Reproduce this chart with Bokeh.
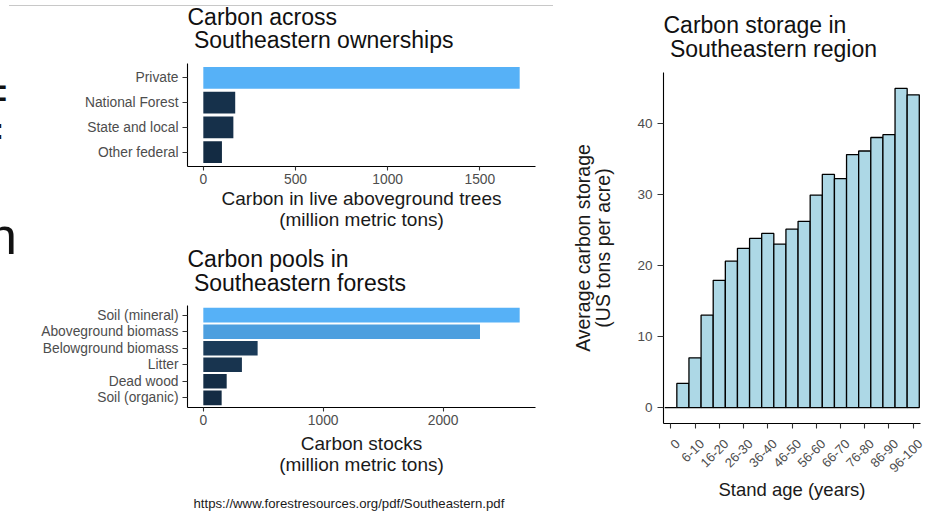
import math
from bokeh.plotting import figure
from bokeh.models import (FactorRange, Range1d, FixedTicker, SingleIntervalTicker,
                          LinearAxis, Label, InlineStyleSheet)
from bokeh.layouts import row, column
from bokeh.embed import file_html
from bokeh.resources import INLINE

# ---------------- data ----------------
owners = ["Private", "National Forest", "State and local", "Other federal"]
owner_carbon = [1716, 173, 163, 101]

pools = ["Soil (mineral)", "Aboveground biomass", "Belowground biomass",
         "Litter", "Dead wood", "Soil (organic)"]
pool_carbon = [2639, 2308, 453, 322, 195, 153]

age_classes = ["0", "1-5", "6-10", "11-15", "16-20", "21-25", "26-30", "31-35",
               "36-40", "41-45", "46-50", "51-55", "56-60", "61-65", "66-70",
               "71-75", "76-80", "81-85", "86-90", "91-95", "96-100"]
age_storage = [0, 3.4, 7.0, 13.0, 17.9, 20.6, 22.4, 23.8, 24.5, 23.0, 25.1,
               26.2, 29.9, 32.8, 32.2, 35.6, 36.1, 38.0, 38.4, 44.9, 44.0]

title1 = ["Carbon across", "\u00a0Southeastern ownerships"]
title2 = ["Carbon pools in", "\u00a0Southeastern forests"]
title3 = ["Carbon storage in", "\u00a0Southeastern region"]
xlab1 = "Carbon in live aboveground trees\n(million metric tons)"
xlab2 = "Carbon stocks\n(million metric tons)"
xlab3 = "Stand age (years)"
ylab3 = "Average carbon storage\n(US tons per acre)"
source_url = "https://www.forestresources.org/pdf/Southeastern.pdf"

FONT = "Liberation Sans"
LOW = (0x13, 0x2B, 0x43)
HIGH = (0x56, 0xB1, 0xF7)


def gradient(vals):
    lo, hi = min(vals), max(vals)
    out = []
    for v in vals:
        t = (v - lo) / (hi - lo)
        c = [round(a + (b - a) * t) for a, b in zip(LOW, HIGH)]
        out.append("#%02x%02x%02x" % tuple(c))
    return out


def style_axis(ax):
    ax.axis_line_color = "black"
    ax.axis_line_width = 1.1
    ax.major_tick_line_color = "#333333"
    ax.major_tick_line_width = 1.1
    ax.major_tick_out = 4
    ax.major_tick_in = 0
    ax.minor_tick_line_color = None
    ax.major_label_text_font = FONT
    ax.major_label_text_font_size = "13.8px"
    ax.major_label_text_color = "#4d4d4d"
    ax.major_label_standoff = 3
    ax.axis_label_text_font = FONT
    ax.axis_label_text_font_size = "19px"
    ax.axis_label_text_font_style = "normal"
    ax.axis_label_text_color = "#1a1a1a"
    ax.axis_label_text_line_height = 1.0
    ax.axis_label_standoff = 0


def style(p):
    p.xgrid.visible = False
    p.ygrid.visible = False
    p.outline_line_color = None
    p.background_fill_color = "white"
    p.border_fill_color = "white"
    for ax in p.axis:
        style_axis(ax)
    for ax in p.yaxis:
        ax.major_tick_out = 5
        ax.major_label_standoff = 4


def text_panel(w, h, left, right):
    """A blank strip with the same side borders as the chart below it;
    its ranges are in canvas pixels (y downwards)."""
    t = figure(width=w, height=h, x_range=Range1d(left, w - right), y_range=Range1d(h, 0),
               min_border_left=left, min_border_right=right, min_border_top=0,
               min_border_bottom=0, toolbar_location=None, output_backend="svg",
               x_axis_location=None, y_axis_location=None)
    t.grid.visible = False
    t.outline_line_color = None
    t.background_fill_color = "white"
    t.border_fill_color = "white"
    return t


def add_text(t, txt, x, y, size, color="#111111"):
    t.add_layout(Label(x=x, y=y, text=txt, text_font=FONT, text_font_size=size,
                       text_align="left", text_baseline="middle", text_color=color))


# ---------------- chart 1 ----------------
t1 = text_panel(560, 63, 187, 25)
add_text(t1, title1[0], 187, 16, "23px")
add_text(t1, title1[1], 187, 39.5, "23px")

m1 = max(owner_carbon)
p1 = figure(width=560, height=177, output_backend="svg", toolbar_location=None,
            y_range=FactorRange(factors=owners[::-1], range_padding=0.08,
                                range_padding_units="absolute"),
            x_range=Range1d(-0.05 * m1, 1.05 * m1),
            min_border_left=187, min_border_right=25, min_border_top=0,
            min_border_bottom=74)
p1.hbar(y=owners, left=0, right=owner_carbon, height=0.88,
        fill_color=gradient(owner_carbon), line_color=None)
style(p1)
p1.xaxis.ticker = SingleIntervalTicker(interval=500)
p1.xaxis.axis_label = xlab1
p1.xaxis.axis_label_standoff = 1

# ---------------- chart 2 ----------------
t2 = text_panel(560, 65, 187, 25)
add_text(t2, title2[0], 187, 18.7, "23px")
add_text(t2, title2[1], 187, 42.5, "23px")

m2 = max(pool_carbon)
p2 = figure(width=560, height=175, output_backend="svg", toolbar_location=None,
            y_range=FactorRange(factors=pools[::-1], range_padding=0.08,
                                range_padding_units="absolute"),
            x_range=Range1d(-0.05 * m2, 1.05 * m2),
            min_border_left=187, min_border_right=25, min_border_top=0,
            min_border_bottom=73)
p2.hbar(y=pools, left=0, right=pool_carbon, height=0.88,
        fill_color=gradient(pool_carbon), line_color=None)
style(p2)
p2.xaxis.ticker = SingleIntervalTicker(interval=1000)
p2.xaxis.axis_label = xlab2
p2.xaxis.axis_label_standoff = 5

u = text_panel(560, 34, 187, 25)
add_text(u, source_url, 193, 22.5, "13.2px", "#1a1a1a")

# ---------------- chart 3 ----------------
t3 = text_panel(373, 72, 103, 13)
add_text(t3, title3[0], 103, 24.3, "23px")
add_text(t3, title3[1], 103, 48, "23px")

m3 = max(age_storage)
idx = list(range(len(age_classes)))
shown = idx[::2]
p3 = figure(width=373, height=442, output_backend="svg", toolbar_location=None,
            x_range=Range1d(-0.6, len(age_classes) - 0.4),
            y_range=Range1d(-0.05 * m3, 1.05 * m3),
            min_border_left=103, min_border_right=13, min_border_top=0,
            min_border_bottom=91)
# label axis: same scale, nudged right so the rotated labels sit under their ticks
LABEL_SHIFT = 0.58
p3.extra_x_ranges = {"lab": Range1d(-0.6 - LABEL_SHIFT, len(age_classes) - 0.4 - LABEL_SHIFT)}
p3.vbar(x=idx, top=age_storage, bottom=0, width=1.0, fill_color="#add8e6",
        line_color="black", line_width=1.3)
style(p3)
p3.yaxis.ticker = SingleIntervalTicker(interval=10)
p3.yaxis.major_tick_out = 6
p3.yaxis.major_label_standoff = 5
p3.yaxis.major_label_text_font_size = "13.5px"
p3.yaxis.axis_label = ylab3
p3.yaxis.axis_label_text_font_size = "19.5px"
p3.yaxis.axis_label_text_line_height = 0.95
p3.yaxis.axis_label_standoff = 20
p3.xaxis.ticker = FixedTicker(ticks=shown)
p3.xaxis.major_tick_out = 5
p3.xaxis.major_label_overrides = {i: "" for i in shown}
p3.xaxis.major_label_text_font_size = "0px"
p3.xaxis.major_label_standoff = 0

lab_axis = LinearAxis(x_range_name="lab", ticker=FixedTicker(ticks=shown))
style_axis(lab_axis)
lab_axis.axis_line_color = None
lab_axis.major_tick_line_color = None
lab_axis.major_tick_out = 0
lab_axis.major_label_overrides = {i: age_classes[i] for i in shown}
lab_axis.major_label_orientation = math.pi / 4
lab_axis.major_label_text_font_size = "13px"
lab_axis.major_label_standoff = 13
lab_axis.axis_label = xlab3
lab_axis.axis_label_text_font_size = "18.5px"
lab_axis.axis_label_standoff = 0
p3.add_layout(lab_axis, "below")

left = column(t1, p1, t2, p2, u)
left.stylesheets = [InlineStyleSheet(css="""
:host::before { content: "n"; position: absolute; left: -12px; top: 210px;
  font: 52px 'Liberation Sans'; line-height: 52px; color: #111; z-index: 100; }
:host::after { content: ""; position: absolute; left: 9px; top: 4.5px; width: 544px;
  height: 1.5px; background: #c8c8c8; z-index: 100; }
""")]
right = column(t3, p3)
layout = row(left, right)
layout.stylesheets = [InlineStyleSheet(css="""
:host::before { content: "="; position: absolute; left: -20px; top: 69px;
  font: 48px 'Liberation Sans'; line-height: 48px; color: #111; z-index: 100; }
:host::after { content: ":"; position: absolute; left: -6px; top: 114px;
  font: bold 30px 'Liberation Sans'; line-height: 30px; color: #111; z-index: 100; }
""")]
open("out.html", "w").write(file_html(layout, INLINE))
